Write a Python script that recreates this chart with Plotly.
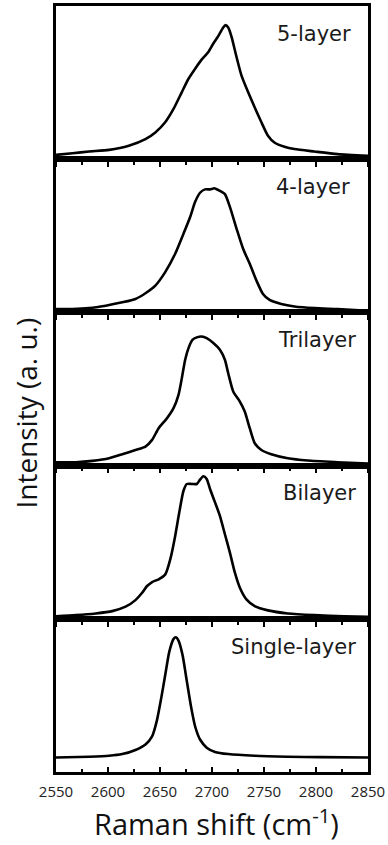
import plotly.graph_objects as go
from plotly.subplots import make_subplots

# ---- data (Raman shift in cm^-1, intensity in arbitrary units) ----
x_5layer = [2550, 2565.9, 2581.8, 2601, 2620, 2636, 2645.5, 2655, 2663, 2671, 2677.4, 2683.8, 2690,
            2696.5, 2701.3, 2706, 2710.8, 2713, 2715.6, 2718.8, 2723.6, 2728.3, 2734.7, 2741, 2747.5,
            2753.8, 2760, 2769.7, 2779.3, 2798.4, 2820.7, 2850]
y_5layer = [0.028, 0.039, 0.050, 0.061, 0.088, 0.131, 0.175, 0.241, 0.328, 0.438, 0.525, 0.591, 0.650,
            0.700, 0.755, 0.803, 0.860, 0.875, 0.860, 0.799, 0.667, 0.547, 0.438, 0.339, 0.241,
            0.153, 0.109, 0.081, 0.066, 0.050, 0.033, 0.022]

x_4layer = [2550, 2565.9, 2581.8, 2597.8, 2613.7, 2626.4, 2636, 2645.5, 2655, 2664.6, 2672.6, 2679,
            2683.8, 2688.5, 2693.3, 2698.1, 2702.2, 2706, 2712.4, 2717.2, 2723.6, 2729.9, 2736.3,
            2742.7, 2749, 2755.4, 2766.6, 2779.3, 2798.4, 2820.7, 2850]
y_4layer = [0.022, 0.022, 0.028, 0.044, 0.066, 0.088, 0.125, 0.175, 0.263, 0.383, 0.514, 0.623,
            0.722, 0.781, 0.803, 0.803, 0.810, 0.799, 0.772, 0.689, 0.547, 0.415, 0.317,
            0.208, 0.120, 0.081, 0.055, 0.039, 0.028, 0.022, 0.011]

x_tri = [2550, 2569.1, 2585, 2601, 2613.7, 2626.4, 2636, 2642.4, 2648.7, 2656.7, 2663, 2667.8, 2671,
         2674.2, 2677.4, 2681.2, 2685.4, 2690.1, 2694.9, 2701.3, 2707.6, 2712.4, 2715.6, 2720.4,
         2726.8, 2731.5, 2736.3, 2741.1, 2747.5, 2757, 2772.9, 2792, 2820.7, 2850]
y_tri = [0.022, 0.022, 0.031, 0.048, 0.074, 0.102, 0.124, 0.168, 0.244, 0.309, 0.375, 0.462, 0.571,
         0.691, 0.767, 0.821, 0.837, 0.843, 0.832, 0.800, 0.756, 0.691, 0.603, 0.484,
         0.418, 0.353, 0.244, 0.146, 0.102, 0.074, 0.048, 0.033, 0.022, 0.013]

x_bi = [2550, 2569.1, 2588.2, 2604.1, 2616.9, 2626.4, 2632.8, 2637.6, 2642.4, 2648.7, 2655.1, 2659.9,
        2664.6, 2668.5, 2672.6, 2675.8, 2680.6, 2685.4, 2688.5, 2691.7, 2694.9, 2698.1, 2702.9,
        2707.6, 2712.4, 2717.2, 2722, 2726.8, 2733.1, 2741.1, 2753.8, 2772.9, 2798.4, 2827.1, 2850]
y_bi = [0.017, 0.024, 0.035, 0.050, 0.079, 0.122, 0.170, 0.214, 0.240, 0.258, 0.290, 0.389,
        0.541, 0.694, 0.836, 0.880, 0.880, 0.880, 0.908, 0.930, 0.913, 0.847, 0.760,
        0.672, 0.552, 0.432, 0.301, 0.203, 0.127, 0.083, 0.055, 0.035, 0.024, 0.017, 0.013]

x_single = [2550, 2581.8, 2601, 2613.7, 2626.4, 2636, 2642.4, 2647.1, 2651.3, 2655.1, 2658.9, 2663.1,
            2665.3, 2667.8, 2671.7, 2675.8, 2679.9, 2683.8, 2688.5, 2694.9, 2702.9, 2715.6, 2741.1,
            2772.9, 2804.8, 2850]
y_single = [0.095, 0.100, 0.106, 0.117, 0.144, 0.180, 0.233, 0.339, 0.487, 0.636, 0.784, 0.869,
            0.879, 0.858, 0.763, 0.593, 0.424, 0.297, 0.212, 0.159, 0.131, 0.117, 0.106,
            0.100, 0.097, 0.095]

panel_labels = ["5-layer", "4-layer", "Trilayer", "Bilayer", "Single-layer"]
series_x = [x_5layer, x_4layer, x_tri, x_bi, x_single]
series_y = [y_5layer, y_4layer, y_tri, y_bi, y_single]

x_range = [2550, 2850]
tick_vals = [2550, 2600, 2650, 2700, 2750, 2800, 2850]
tick_text = ["2550", "2600", "2650", "2700", "2750", "2800", "2850"]
x_title = "Raman shift (cm<sup>-1</sup>)"
y_title = "Intensity (a. u.)"

# ---- figure ----
W, H = 388, 845
ML, MR, MT, MB = 56, 18, 3, 73
n = len(panel_labels)

fig = make_subplots(rows=n, cols=1, shared_xaxes=False, vertical_spacing=0)

label_right = [355, 354, 360, 360, 360]  # px of right edge of label text

for i in range(n):
    r = i + 1
    fig.add_trace(go.Scatter(x=series_x[i], y=series_y[i], mode="lines",
                             line=dict(color="black", width=2.6, shape="spline", smoothing=0.6),
                             showlegend=False, hoverinfo="skip"), row=r, col=1)
    last = (r == n)
    fig.update_xaxes(row=r, col=1, range=x_range, showgrid=False, zeroline=False,
                     showline=True, linecolor="black", linewidth=2.5, mirror=True,
                     tickmode="array", tickvals=tick_vals, ticktext=tick_text,
                     ticks="inside" if last else "outside", ticklen=5, tickwidth=2,
                     tickcolor="black",
                     minor=dict(ticks="inside" if last else "outside", dtick=25, tick0=2550,
                                ticklen=3, tickwidth=2, tickcolor="black"),
                     showticklabels=last, ticklabelstandoff=4,
                     tickfont=dict(family="Open Sans", size=15, color="#222"))
    fig.update_yaxes(row=r, col=1, range=[0, 1], showgrid=False, zeroline=False,
                     showline=True, linecolor="black", linewidth=2.5, mirror=True,
                     ticks="", showticklabels=False)

plot_w = W - ML - MR
plot_h = H - MT - MB
panel_h = plot_h / n

for i, lab in enumerate(panel_labels):
    top_px = MT + i * panel_h
    ycen = 1 - (top_px + 28 - MT) / plot_h
    fig.add_annotation(text=lab, xref="paper", yref="paper",
                       x=(label_right[i] - ML) / plot_w, y=ycen,
                       xanchor="right", yanchor="middle", showarrow=False,
                       font=dict(family="DejaVu Sans", size=21, color="#1a1a1a"))

fig.add_annotation(text=x_title, xref="paper", yref="paper",
                   x=(218 - ML) / plot_w, y=(H - MB - 822) / plot_h,
                   xanchor="center", yanchor="middle", showarrow=False,
                   font=dict(family="Open Sans", size=29, color="#111"))
fig.add_annotation(text=y_title, xref="paper", yref="paper", textangle=-90,
                   x=(26 - ML) / plot_w, y=(H - MB - 412) / plot_h,
                   xanchor="center", yanchor="middle", showarrow=False,
                   font=dict(family="Open Sans", size=28, color="#111"))

fig.update_layout(width=W, height=H, margin=dict(l=ML, r=MR, t=MT, b=MB, pad=0),
                  paper_bgcolor="white", plot_bgcolor="rgba(0,0,0,0)",
                  showlegend=False)

fig.write_html("out.html")
